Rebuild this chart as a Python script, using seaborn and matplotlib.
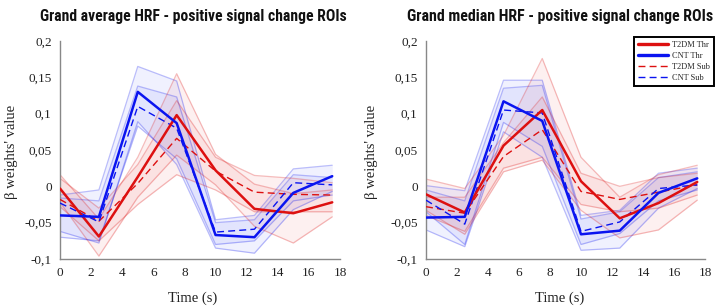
import numpy as np
import pandas as pd
import matplotlib
matplotlib.use("Agg")
import matplotlib.pyplot as plt
from matplotlib.ticker import FuncFormatter, MultipleLocator
from matplotlib.lines import Line2D
import seaborn as sns

time = [0, 2.5, 5, 7.5, 10, 12.5, 15, 17.5]
series_names = ["T2DM Thr", "CNT Thr", "T2DM Sub", "CNT Sub"]
titles = ["Grand average HRF - positive signal change ROIs",
          "Grand median HRF - positive signal change ROIs"]

# grand average panel
avg_t2dm_thr = [-0.003, -0.069, 0.013, 0.098, 0.022, -0.031, -0.037, -0.022]
avg_t2dm_thr_hi = [0.016, -0.045, 0.040, 0.155, 0.044, 0.003, -0.010, -0.005]
avg_t2dm_thr_lo = [-0.022, -0.096, -0.015, 0.043, 0.002, -0.055, -0.078, -0.042]
avg_t2dm_sub = [-0.018, -0.048, 0.004, 0.066, 0.021, -0.008, -0.011, -0.012]
avg_t2dm_sub_hi = [0.011, -0.030, 0.030, 0.118, 0.040, 0.015, 0.011, 0.005]
avg_t2dm_sub_lo = [-0.028, -0.075, -0.025, 0.016, -0.005, -0.035, -0.035, -0.035]
avg_cnt_thr = [-0.040, -0.042, 0.130, 0.087, -0.067, -0.070, -0.009, 0.014]
avg_cnt_thr_hi = [-0.012, -0.005, 0.165, 0.145, -0.046, -0.040, 0.024, 0.029]
avg_cnt_thr_lo = [-0.062, -0.078, 0.089, 0.030, -0.085, -0.092, -0.032, -0.007]
avg_cnt_sub = [-0.023, -0.049, 0.110, 0.080, -0.063, -0.059, 0.005, 0.002]
avg_cnt_sub_hi = [-0.016, -0.020, 0.138, 0.123, -0.050, -0.046, 0.016, 0.012]
avg_cnt_sub_lo = [-0.070, -0.075, 0.083, 0.038, -0.080, -0.075, -0.020, -0.012]

# grand median panel
med_t2dm_thr = [-0.011, -0.036, 0.056, 0.105, 0.007, -0.044, -0.023, 0.006]
med_t2dm_thr_hi = [0.010, -0.003, 0.070, 0.176, 0.040, -0.015, 0.016, 0.029]
med_t2dm_thr_lo = [-0.033, -0.066, 0.020, 0.036, -0.033, -0.071, -0.060, -0.019]
med_t2dm_sub = [-0.028, -0.037, 0.041, 0.078, -0.007, -0.018, -0.008, 0.002]
med_t2dm_sub_hi = [-0.015, -0.015, 0.060, 0.123, 0.018, 0.000, 0.012, 0.018]
med_t2dm_sub_lo = [-0.040, -0.062, 0.025, 0.040, -0.025, -0.035, -0.030, -0.012]
med_cnt_thr = [-0.043, -0.042, 0.117, 0.090, -0.066, -0.061, -0.009, 0.011]
med_cnt_thr_hi = [0.001, -0.006, 0.146, 0.146, -0.040, -0.033, 0.018, 0.025]
med_cnt_thr_lo = [-0.060, -0.083, 0.075, 0.040, -0.088, -0.085, -0.030, -0.003]
med_cnt_sub = [-0.019, -0.052, 0.105, 0.101, -0.062, -0.049, -0.003, 0.002]
med_cnt_sub_hi = [-0.005, -0.020, 0.135, 0.139, -0.045, -0.035, 0.012, 0.020]
med_cnt_sub_lo = [-0.035, -0.080, 0.088, 0.055, -0.080, -0.065, -0.020, -0.005]

panels = [
    {"T2DM Thr": (avg_t2dm_thr, avg_t2dm_thr_hi, avg_t2dm_thr_lo),
     "CNT Thr": (avg_cnt_thr, avg_cnt_thr_hi, avg_cnt_thr_lo),
     "T2DM Sub": (avg_t2dm_sub, avg_t2dm_sub_hi, avg_t2dm_sub_lo),
     "CNT Sub": (avg_cnt_sub, avg_cnt_sub_hi, avg_cnt_sub_lo)},
    {"T2DM Thr": (med_t2dm_thr, med_t2dm_thr_hi, med_t2dm_thr_lo),
     "CNT Thr": (med_cnt_thr, med_cnt_thr_hi, med_cnt_thr_lo),
     "T2DM Sub": (med_t2dm_sub, med_t2dm_sub_hi, med_t2dm_sub_lo),
     "CNT Sub": (med_cnt_sub, med_cnt_sub_hi, med_cnt_sub_lo)},
]

RED = "#dd1010"
BLUE = "#0a14f0"
styles = {
    "T2DM Thr": dict(color=RED, ls="-", lw=1.8),
    "CNT Thr": dict(color=BLUE, ls="-", lw=1.8),
    "T2DM Sub": dict(color=RED, ls=(0, (5, 3)), lw=1.0),
    "CNT Sub": dict(color=BLUE, ls=(0, (5, 3)), lw=1.0),
}

sns.set_style("white")
plt.rcParams["font.family"] = ["Liberation Serif", "DejaVu Serif"]

fig = plt.figure(figsize=(7.25, 3.07), dpi=100)
axes = [fig.add_axes([60 / 725, 1 - 259 / 307, 280 / 725, 218 / 307]),
        fig.add_axes([426 / 725, 1 - 259 / 307, 279 / 725, 218 / 307])]

comma = FuncFormatter(lambda v, p: ("%g" % round(v, 3)).replace(".", ","))

for ax, data in zip(axes, panels):
    # bands first
    for name in ["CNT Thr", "CNT Sub", "T2DM Thr", "T2DM Sub"]:
        m, hi, lo = data[name]
        c = styles[name]["color"]
        ax.fill_between(time, lo, hi, color=c, alpha=0.06, lw=0)
        ax.plot(time, hi, color=c, lw=0.9, alpha=0.28)
        ax.plot(time, lo, color=c, lw=0.9, alpha=0.28)
    for name in ["T2DM Sub", "CNT Sub", "T2DM Thr", "CNT Thr"]:
        m = data[name][0]
        st = styles[name]
        sns.lineplot(x=time, y=m, ax=ax, color=st["color"], lw=st["lw"],
                     linestyle=st["ls"], zorder=5)
    ax.set_xlim(0, 18)
    ax.set_ylim(-0.1, 0.2)
    ax.xaxis.set_major_locator(MultipleLocator(2))
    ax.yaxis.set_major_locator(MultipleLocator(0.05))
    ax.yaxis.set_major_formatter(comma)
    ax.tick_params(direction="in", length=3, width=0.8, color="#888888",
                   labelsize=9.5, pad=6, labelcolor="#222222")
    sns.despine(ax=ax)
    for s in ["left", "bottom"]:
        ax.spines[s].set_color("#888888")
        ax.spines[s].set_linewidth(1.0)
    ax.set_xlabel("")
    ax.set_ylabel("")

renderer = fig.canvas.get_renderer()
for cx, yl_x, title in [(193, 12, titles[0]), (560, 372, titles[1])]:
    t = fig.text(cx / 725, 1 - 17 / 307, title, ha="center", va="center",
                 fontsize=12, fontweight="bold",
                 family=["Roboto Condensed", "Roboto", "DejaVu Sans"],
                 color="#111111")
    # shrink the title to the width it has in the reference (~307 px)
    w = t.get_window_extent(renderer).width
    t.set_fontsize(12 * 307 / w)
    fig.text(cx / 725, 1 - 298 / 307, "Time (s)", ha="center", va="center",
             fontsize=10.5, color="#222222")
    fig.text(yl_x / 725, 1 - 152 / 307, "β weights' value", ha="center",
             va="center", rotation=90, fontsize=10.5, color="#222222")

handles = [Line2D([], [], color=styles[n]["color"],
                  lw=2.4 if "Thr" in n else 1.0, ls=styles[n]["ls"])
           for n in series_names]
leg = axes[1].legend(handles, series_names, loc="upper right",
                     bbox_to_anchor=(714 / 725, 1 - 37 / 307),
                     bbox_transform=fig.transFigure, borderaxespad=0,
                     fontsize=6, handlelength=3.6, handletextpad=0.5,
                     labelspacing=0.35, borderpad=0.5, fancybox=False,
                     framealpha=1, edgecolor="black")
leg.get_frame().set_linewidth(1.4)

fig.savefig("out.png", dpi=100)
